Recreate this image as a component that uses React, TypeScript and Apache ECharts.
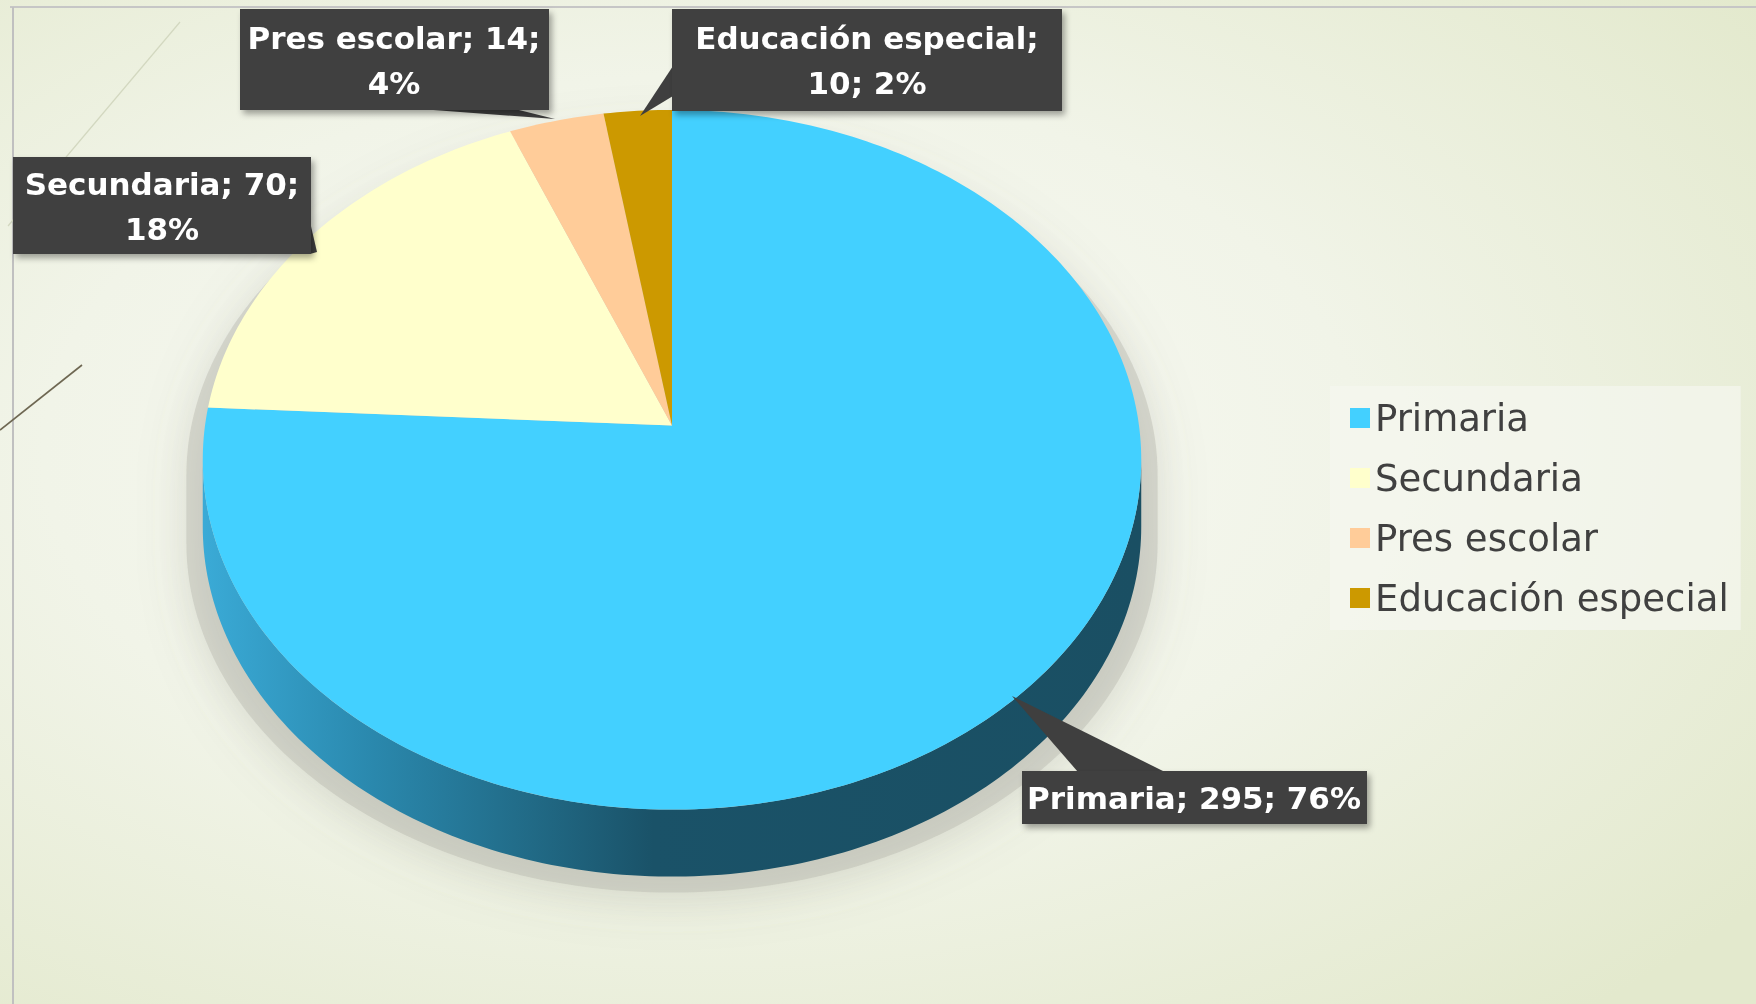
import React, { useEffect, useRef } from "react";
import * as echarts from "echarts";

// ---- data ----
const categories = ["Primaria", "Secundaria", "Pres escolar", "Educación especial"];
const values = [295, 70, 14, 10];
const percents = [76, 18, 4, 2];
const colors = ["#43D0FF", "#FFFFCC", "#FFCC99", "#CC9900"];

// ---- layout (3D pie projection) ----
const W = 1756;
const H = 1004;
const CX = 672;
const A = 425.6;
const B = -305;
const K = 467;
const C = 0.0976;
const DEPTH = 67;
const SIL0 = (Math.acos(-C) * 180) / Math.PI;
const SIL1 = 360 - SIL0;

const total = values.reduce((s, v) => s + v, 0);
const starts: number[] = [];
values.reduce((acc, v, i) => {
  starts[i] = acc;
  return acc + v;
}, 0);

function rim(deg: number, dy = 0): number[] {
  const th = (deg * Math.PI) / 180;
  const t = Math.cos(th);
  const s = Math.sin(th);
  const q = 1 + C * t;
  return [CX + (K * s) / q, (A + B * t) / q + dy];
}
function arc(a0: number, a1: number, dy = 0): number[][] {
  const n = Math.max(2, Math.ceil(Math.abs(a1 - a0)) + 1);
  const pts: number[][] = [];
  for (let i = 0; i < n; i++) pts.push(rim(a0 + ((a1 - a0) * i) / (n - 1), dy));
  return pts;
}

// label layout: box, text center, line break after part index, tail polygon
const labelLayout = [
  { box: [1022, 771, 345, 53], tc: [1194, 798], brk: -1, tail: [[1078, 772], [1165, 772], [1012, 696]] },
  { box: [13, 157, 298, 97], tc: [162, 206], brk: 1, tail: [[310, 222], [310, 254], [317, 252]] },
  { box: [240, 9, 309, 101], tc: [394, 60], brk: 1, tail: [[420, 109], [515, 109], [555, 119]] },
  { box: [672, 9, 390, 102], tc: [867, 60], brk: 0, tail: [[673, 66], [673, 96], [640, 116]] },
];

function labelText(i: number): string {
  const parts = [categories[i], String(values[i]), percents[i] + "%"];
  const brk = labelLayout[i].brk;
  let out = "";
  parts.forEach((p, j) => {
    out += p;
    if (j < parts.length - 1) out += j === brk ? ";\n" : "; ";
  });
  return out;
}

export default function App() {
  const ref = useRef<HTMLDivElement>(null);
  useEffect(() => {
    if (!ref.current) return;
    const chart = echarts.init(ref.current, null, { renderer: "svg", width: W, height: H });

    const sideGradient = new echarts.graphic.LinearGradient(
      CX - K,
      0,
      CX + K,
      0,
      [
        { offset: 0, color: "#3aaad6" },
        { offset: 0.18, color: "#2a88ad" },
        { offset: 0.35, color: "#216a86" },
        { offset: 0.48, color: "#1a5268" },
        { offset: 1, color: "#1a4f63" },
      ],
      true
    );

    const silhouette = [...arc(SIL1 - 360, SIL0), ...arc(SIL0, SIL1, DEPTH)];
    const shadowPts = silhouette.map(([x, y]) => [CX + (x - CX) * 1.035, y + 16]);

    const graphics: any[] = [
      {
        type: "rect",
        z: -10,
        silent: true,
        shape: { x: 0, y: 0, width: W, height: H },
        style: {
          fill: new echarts.graphic.RadialGradient(0.4, 0.45, 0.75, [
            { offset: 0, color: "#f9faf5" },
            { offset: 0.5, color: "#f1f4e8" },
            { offset: 1, color: "#e3e9cd" },
          ]),
        },
      },
      { type: "line", z: -5, shape: { x1: 10, y1: 7, x2: W, y2: 7 }, style: { stroke: "#c6c6c6", lineWidth: 2 } },
      { type: "line", z: -5, shape: { x1: 13, y1: 7, x2: 13, y2: H }, style: { stroke: "#c0c0c0", lineWidth: 2 } },
      { type: "line", z: -5, shape: { x1: 180, y1: 22, x2: 8, y2: 226 }, style: { stroke: "#d3d8c0", lineWidth: 1.2 } },
      { type: "line", z: -5, shape: { x1: 82, y1: 365, x2: 0, y2: 430 }, style: { stroke: "#6e6752", lineWidth: 1.6 } },
      {
        type: "polygon",
        z: 0,
        silent: true,
        shape: { points: shadowPts },
        style: {
          fill: "rgba(170,170,160,0.35)",
          shadowBlur: 45,
          shadowOffsetY: 8,
          shadowColor: "rgba(110,110,100,0.6)",
        },
      },
    ];

    labelLayout.forEach((L, i) => {
      graphics.push({
        type: "polygon",
        z: 99,
        shape: { points: L.tail },
        style: { fill: "#3f3f3f" },
      });
      graphics.push({
        type: "rect",
        z: 100,
        shape: { x: L.box[0], y: L.box[1], width: L.box[2], height: L.box[3] },
        style: {
          fill: "#3f3f3f",
          shadowBlur: 6,
          shadowOffsetX: 3,
          shadowOffsetY: 4,
          shadowColor: "rgba(0,0,0,0.35)",
        },
      });
      graphics.push({
        type: "text",
        z: 101,
        x: L.tc[0],
        y: L.tc[1],
        style: {
          text: labelText(i),
          fill: "#ffffff",
          fontFamily: "DejaVu Sans",
          fontWeight: "bold",
          fontSize: 31,
          lineHeight: 45,
          align: "center",
          verticalAlign: "middle",
        },
      });
    });

    chart.setOption({
      animation: false,
      legend: {
        orient: "vertical",
        left: 1330,
        top: 386,
        padding: [12, 12, 12, 20],
        itemWidth: 20,
        itemHeight: 20,
        itemGap: 20,
        icon: "rect",
        backgroundColor: "rgba(245,246,240,0.7)",
        textStyle: { fontFamily: "DejaVu Sans", fontSize: 37, color: "#404040", lineHeight: 40 },
        data: categories,
        selectedMode: false,
      },
      graphic: graphics,
      series: categories.map((name, i) => ({
        type: "custom",
        name,
        coordinateSystem: "none",
        data: [values[i]],
        itemStyle: { color: colors[i] },
        renderItem: (params: any, api: any) => {
          const v = api.value(0) as number;
          const a0 = (starts[i] / total) * 360;
          const a1 = a0 + (v / total) * 360;
          const children: any[] = [];
          const s0 = Math.max(a0, SIL0);
          const s1 = Math.min(a1, SIL1);
          if (s1 > s0) {
            children.push({
              type: "polygon",
              shape: { points: [...arc(s0, s1), ...arc(s1, s0, DEPTH)] },
              style: { fill: sideGradient },
            });
          }
          children.push({
            type: "polygon",
            shape: { points: [[CX, A], ...arc(a0, a1)] },
            style: { fill: colors[i] },
          });
          return { type: "group", children };
        },
      })),
    });
    return () => chart.dispose();
  }, []);
  return <div ref={ref} style={{ position: "fixed", left: 0, top: 0, width: W, height: H }} />;
}
